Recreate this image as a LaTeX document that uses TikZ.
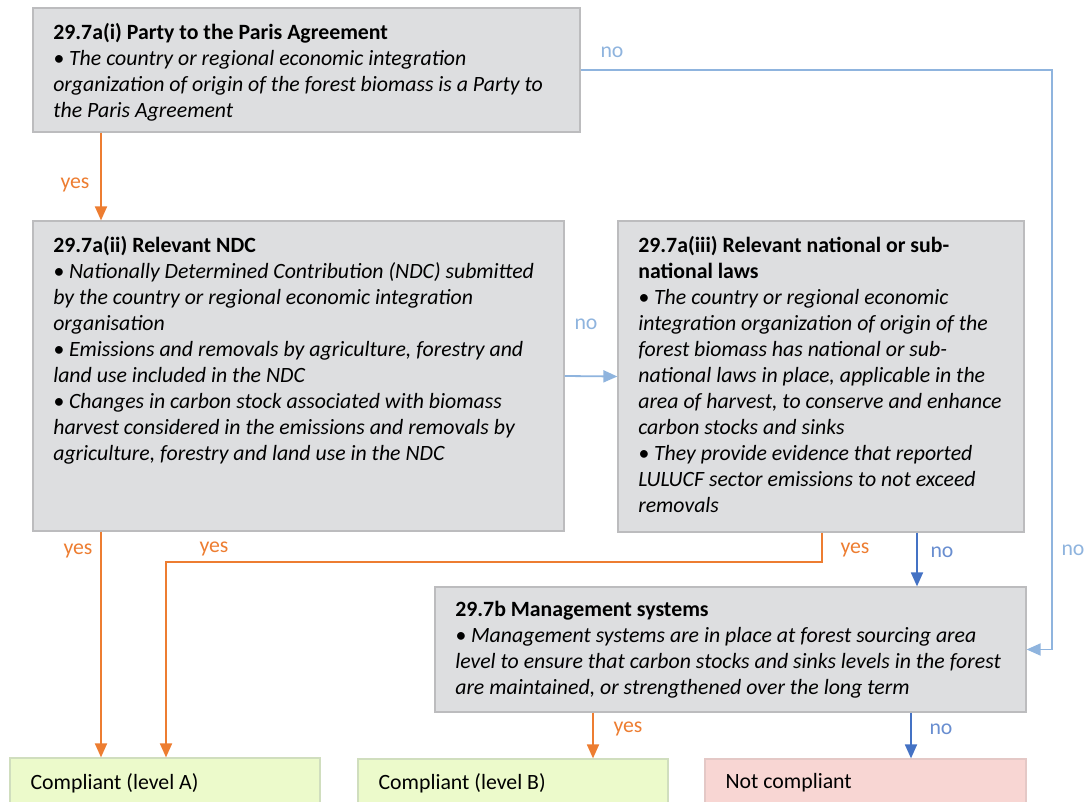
\documentclass[tikz,border=0pt]{standalone}
\usepackage{fontspec}
\setmainfont{Carlito}
\usetikzlibrary{arrows.meta, fit}

\definecolor{boxgray}{RGB}{221,222,224}
\definecolor{boxedge}{RGB}{188,188,190}
\definecolor{okgreen}{RGB}{236,250,203}
\definecolor{okedge}{RGB}{208,222,190}
\definecolor{failred}{RGB}{248,214,211}
\definecolor{failedge}{RGB}{228,200,198}
\definecolor{yesorange}{RGB}{237,125,49}
\definecolor{noblue}{RGB}{68,114,196}
\definecolor{paleblue}{RGB}{143,180,222}

\begin{document}
\begin{tikzpicture}[%
        x = 0.5pt,
        y = -0.5pt,
        line width = 0.9pt,
        > = {Triangle[length = 7pt, width = 6pt]},
        every node/.style = {%
            font = \fontsize{10.9}{13}\selectfont
        },
        graybox/.style = {%
            draw = boxedge,
            fill = boxgray,
            line width = 0.6pt,
            inner sep = 0pt
        },
        greenbox/.style = {%
            graybox,
            draw = okedge,
            fill = okgreen
        },
        redbox/.style = {%
            graybox,
            draw = failedge,
            fill = failred
        },
        boxtext/.style = {%
            anchor = north west,
            align = left,
            inner sep = 0pt
        },
        yesarrow/.style = {%
            draw = yesorange,
            ->
        },
        noarrow/.style = {%
            draw = noblue,
            ->
        },
        paleno/.style = {%
            draw = paleblue,
            ->
        },
        yeslabel/.style = {text = yesorange},
        nolabel/.style = {text = noblue!80},
        palelabel/.style = {text = paleblue}
    ]
        \useasboundingbox (0, 0) rectangle (1084, 802);

        \node[graybox, fit = {(33, 8) (580, 132)}] (party) {};
        \node[graybox, fit = {(33, 221) (564, 531)}] (ndc) {};
        \node[graybox, fit = {(618, 221) (1024, 532)}] (laws) {};
        \node[graybox, fit = {(435, 587) (1026, 712)}] (mgmt) {};
        \node[greenbox, fit = {(10, 758) (320, 812)}] (levelA) {};
        \node[greenbox, fit = {(358, 759) (668, 812)}] (levelB) {};
        \node[redbox, fit = {(705, 759) (1026, 812)}] (fail) {};

        \node[boxtext] (partytext) at ([xshift = 10pt, yshift = -7.5pt] party.north west)
            {{\bfseries 29.7a(i) Party to the Paris Agreement}\\
             \itshape • The country or regional economic integration\\
             \itshape organization of origin of the forest biomass is a Party to\\
             \itshape the Paris Agreement};
        \node[boxtext] (ndctext) at ([xshift = 10pt, yshift = -7.5pt] ndc.north west)
            {{\bfseries 29.7a(ii) Relevant NDC}\\
             \itshape • Nationally Determined Contribution (NDC) submitted\\
             \itshape by the country or regional economic integration\\
             \itshape organisation\\
             \itshape • Emissions and removals by agriculture, forestry and\\
             \itshape land use included in the NDC\\
             \itshape • Changes in carbon stock associated with biomass\\
             \itshape harvest considered in the emissions and removals by\\
             \itshape agriculture, forestry and land use in the NDC};
        \node[boxtext] (lawstext) at ([xshift = 10pt, yshift = -7.5pt] laws.north west)
            {{\bfseries 29.7a(iii) Relevant national or sub-}\\
             {\bfseries national laws}\\
             \itshape • The country or regional economic\\
             \itshape integration organization of origin of the\\
             \itshape forest biomass has national or sub-\\
             \itshape national laws in place, applicable in the\\
             \itshape area of harvest, to conserve and enhance\\
             \itshape carbon stocks and sinks\\
             \itshape • They provide evidence that reported\\
             \itshape LULUCF sector emissions to not exceed\\
             \itshape removals};
        \node[boxtext] (mgmttext) at ([xshift = 10pt, yshift = -7pt] mgmt.north west)
            {{\bfseries 29.7b Management systems}\\
             \itshape • Management systems are in place at forest sourcing area\\
             \itshape level to ensure that carbon stocks and sinks levels in the forest\\
             \itshape are maintained, or strengthened over the long term};
        \node[anchor = west] (levelAtext) at (23, 783) {Compliant (level A)};
        \node[anchor = west] (levelBtext) at (371, 783) {Compliant (level B)};
        \node[anchor = west] (failtext) at (718, 783) {Not compliant};

        \coordinate (colA) at (101, 0);
        \coordinate (colB) at (166, 0);
        \coordinate (colE) at (593, 0);
        \coordinate (colF) at (911, 0);
        \coordinate (colD) at (917, 0);
        \coordinate (noturn) at (1052, 70);
        \coordinate (yesturn) at (822, 562);

        \draw[yesarrow] (party.south -| colA) to (ndc.north -| colA);
        \draw[paleno] (party.east |- noturn) -- (noturn) |- (mgmt.east);
        \draw[paleno] (ndc.east) to (laws.west);
        \draw[yesarrow] (ndc.south -| colA) to (levelA.north -| colA);
        \draw[yesarrow] (laws.south -| yesturn) -- (yesturn) -| (levelA.north -| colB);
        \draw[noarrow] (laws.south -| colD) to (mgmt.north -| colD);
        \draw[yesarrow] (mgmt.south -| colE) to (levelB.north -| colE);
        \draw[noarrow] (mgmt.south -| colF) to (fail.north -| colF);

        \node[yeslabel] (yesndc) at (75, 185) {yes};
        \node[palelabel] (noparty) at (612, 52) {no};
        \node[palelabel] (nolaws) at (586, 324) {no};
        \node[palelabel] (nomgmt) at (1073, 550) {no};
        \node[yeslabel] (yesA) at (78, 551) {yes};
        \node[yeslabel] (yesAlaws) at (214, 549) {yes};
        \node[yeslabel] (yeslaws) at (855, 550) {yes};
        \node[nolabel] (nolawsmgmt) at (942, 552) {no};
        \node[yeslabel] (yesB) at (628, 729) {yes};
        \node[nolabel] (nofail) at (941, 729) {no};
    \end{tikzpicture}
\end{document}
